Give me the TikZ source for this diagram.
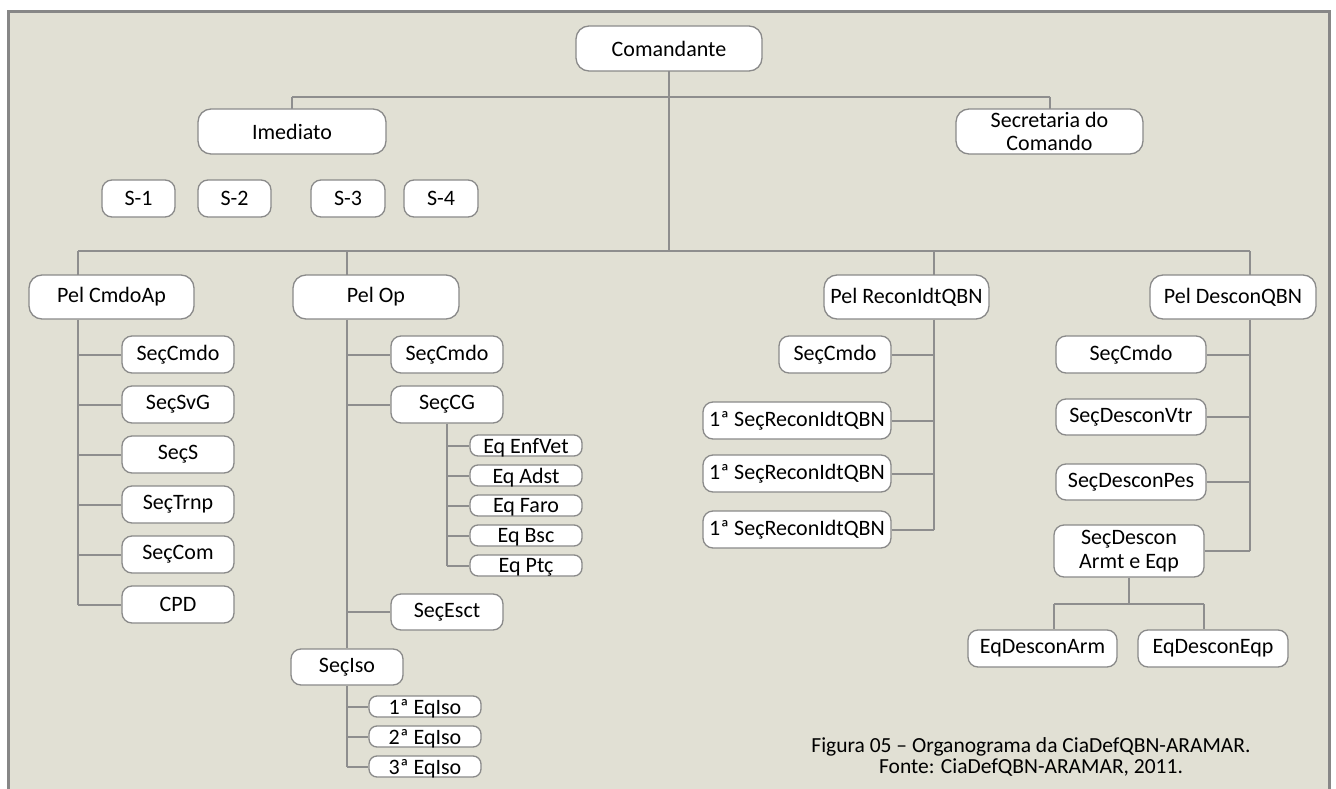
\documentclass[tikz,border=0pt]{standalone}
\usepackage{fontspec}
\setmainfont{Carlito}
\definecolor{bgc}{HTML}{E1E0D4}
\definecolor{framec}{HTML}{878787}
\definecolor{boxc}{HTML}{8A8A8A}
\definecolor{connc}{HTML}{8E8E8E}
\newcommand\orgbox[7][]{\node[obox,minimum width={#5-#3},minimum height={#6-#4},#1] (#2) at ({(#3+#5)/2},{(#4+#6)/2}) {#7};}
\begin{document}
\begin{tikzpicture}[x=1pt,y=-1pt,
  obox/.style={draw=boxc,line width=1.3pt,fill=white,rounded corners=13pt,inner sep=0pt,
    font=\fontsize{22}{22.5}\selectfont,align=center},
  boxmid/.style={rounded corners=10pt},
  boxtiny/.style={rounded corners=8pt,text depth=0pt},
  conn/.style={draw=connc,line width=2pt},
  captext/.style={font=\fontsize{21.5}{20.5}\selectfont,align=center,inner sep=0pt}]
\useasboundingbox (0,0) rectangle (1336,789);
\fill[white] (0,0) rectangle (1336,789);
\fill[bgc] (8.5,11.5) rectangle (1329,789);
\draw[framec,line width=3pt] (8.5,789) -- (8.5,11.5) -- (1329,11.5) -- (1329,789);

% coordinates for buses
\coordinate (b1l) at (292,97);
\coordinate (b1r) at (1049.5,97);
\coordinate (pcaX) at (78,251);
\coordinate (popX) at (347,251);
\coordinate (prcX) at (934,251);
\coordinate (pdqX) at (1250,251);
\coordinate (q1X) at (1054,604);
\coordinate (q2X) at (1204,604);

% connectors (drawn first, below boxes)
\draw[conn] (b1l) -- (b1r);
\draw[conn] (b1l) -- (b1l |- 0,109);
\draw[conn] (b1r) -- (b1r |- 0,109);
\draw[conn] (669,71) -- (669,251);
\draw[conn] (pcaX) -- (pdqX);
\draw[conn] (pcaX) -- (pcaX |- 0,275);
\draw[conn] (popX) -- (popX |- 0,275);
\draw[conn] (prcX) -- (prcX |- 0,275);
\draw[conn] (pdqX) -- (pdqX |- 0,275);

% top level
\orgbox{com}{576}{26}{762}{71}{Comandante}
\orgbox{ime}{198}{109}{386}{154}{Imediato}
\orgbox{sec}{956}{109}{1143}{154}{Secretaria do\\Comando}
\orgbox[boxmid]{s1}{102}{180}{175}{217}{S-1}
\orgbox[boxmid]{s2}{198}{180}{271}{217}{S-2}
\orgbox[boxmid]{s3}{311}{180}{385}{217}{S-3}
\orgbox[boxmid]{s4}{404}{180}{478}{217}{S-4}

% platoons
\orgbox{pca}{29}{275}{194}{319}{Pel CmdoAp}
\orgbox{pop}{293}{275}{459}{319}{Pel Op}
\orgbox{prc}{824}{275}{989}{319}{Pel ReconIdtQBN}
\orgbox{pdq}{1150}{275}{1316}{319}{Pel DesconQBN}

% Pel CmdoAp children
\orgbox[boxmid]{a1}{122}{336}{234}{373}{SeçCmdo}
\orgbox[boxmid]{a2}{122}{386}{234}{423}{SeçSvG}
\orgbox[boxmid]{a3}{122}{436}{234}{473}{SeçS}
\orgbox[boxmid]{a4}{122}{486}{234}{523}{SeçTrnp}
\orgbox[boxmid]{a5}{122}{536}{234}{573}{SeçCom}
\orgbox[boxmid]{a6}{122}{586}{234}{623}{CPD}
\draw[conn] (pcaX |- pca.south) -- (pcaX |- a6.west);
\foreach \n in {a1,a2,a3,a4,a5,a6} \draw[conn] (pcaX |- \n.west) -- (\n.west);

% Pel Op children
\orgbox[boxmid]{o1}{391}{336}{503}{373}{SeçCmdo}
\orgbox[boxmid]{o2}{391}{386}{503}{423}{SeçCG}
\orgbox[boxmid]{o3}{391}{594}{503}{630}{SeçEsct}
\orgbox[boxmid]{o4}{291}{649}{403}{685}{SeçIso}
\draw[conn] (popX |- pop.south) -- (o4.north);
\foreach \n in {o1,o2,o3} \draw[conn] (popX |- \n.west) -- (\n.west);

\orgbox[boxtiny]{e1}{470}{435}{582}{456}{Eq EnfVet}
\orgbox[boxtiny]{e2}{470}{465}{582}{486}{Eq Adst}
\orgbox[boxtiny]{e3}{470}{495}{582}{516}{Eq Faro}
\orgbox[boxtiny]{e4}{470}{525}{582}{546}{Eq Bsc}
\orgbox[boxtiny]{e5}{470}{555}{582}{576}{Eq Ptç}
\draw[conn] (o2.south) -- (o2.south |- e5.west);
\foreach \n in {e1,e2,e3,e4,e5} \draw[conn] (o2.south |- \n.west) -- (\n.west);

\orgbox[boxtiny]{i1}{369}{696}{481}{717}{1ª EqIso}
\orgbox[boxtiny]{i2}{369}{726}{481}{747}{2ª EqIso}
\orgbox[boxtiny]{i3}{369}{756}{481}{777}{3ª EqIso}
\draw[conn] (o4.south) -- (o4.south |- i3.west);
\foreach \n in {i1,i2,i3} \draw[conn] (o4.south |- \n.west) -- (\n.west);

% Pel ReconIdtQBN children
\orgbox[boxmid]{r1}{779}{336}{891}{373}{SeçCmdo}
\orgbox[boxmid]{r2}{703}{402}{891}{439}{1ª SeçReconIdtQBN}
\orgbox[boxmid]{r3}{703}{455}{891}{492}{1ª SeçReconIdtQBN}
\orgbox[boxmid]{r4}{703}{511}{891}{548}{1ª SeçReconIdtQBN}
\draw[conn] (prcX |- prc.south) -- (prcX |- r4.east);
\foreach \n in {r1,r2,r3,r4} \draw[conn] (\n.east) -- (prcX |- \n.east);

% Pel DesconQBN children
\orgbox[boxmid]{d1}{1056}{336}{1206}{373}{SeçCmdo}
\orgbox[boxmid]{d2}{1056}{399}{1206}{435}{SeçDesconVtr}
\orgbox[boxmid]{d3}{1056}{464}{1206}{500}{SeçDesconPes}
\orgbox[boxmid,font=\fontsize{22}{24}\selectfont]{d4}{1054}{525}{1204}{577}{SeçDescon\\Armt e Eqp}
\draw[conn] (pdqX |- pdq.south) -- (pdqX |- d4.east);
\foreach \n in {d1,d2,d3,d4} \draw[conn] (\n.east) -- (pdqX |- \n.east);

\orgbox[boxmid]{q1}{968}{630}{1117}{667}{EqDesconArm}
\orgbox[boxmid]{q2}{1138}{630}{1288}{667}{EqDesconEqp}
\draw[conn] (d4.south) -- (d4.south |- q1X);
\draw[conn] (q1X) -- (q2X);
\draw[conn] (q1X) -- (q1X |- q1.north);
\draw[conn] (q2X) -- (q2X |- q2.north);

% caption
\node[captext] (caption) at (1031,757) {Figura 05 – Organograma da CiaDefQBN-ARAMAR.\\Fonte: CiaDefQBN-ARAMAR, 2011.};
\end{tikzpicture}
\end{document}
